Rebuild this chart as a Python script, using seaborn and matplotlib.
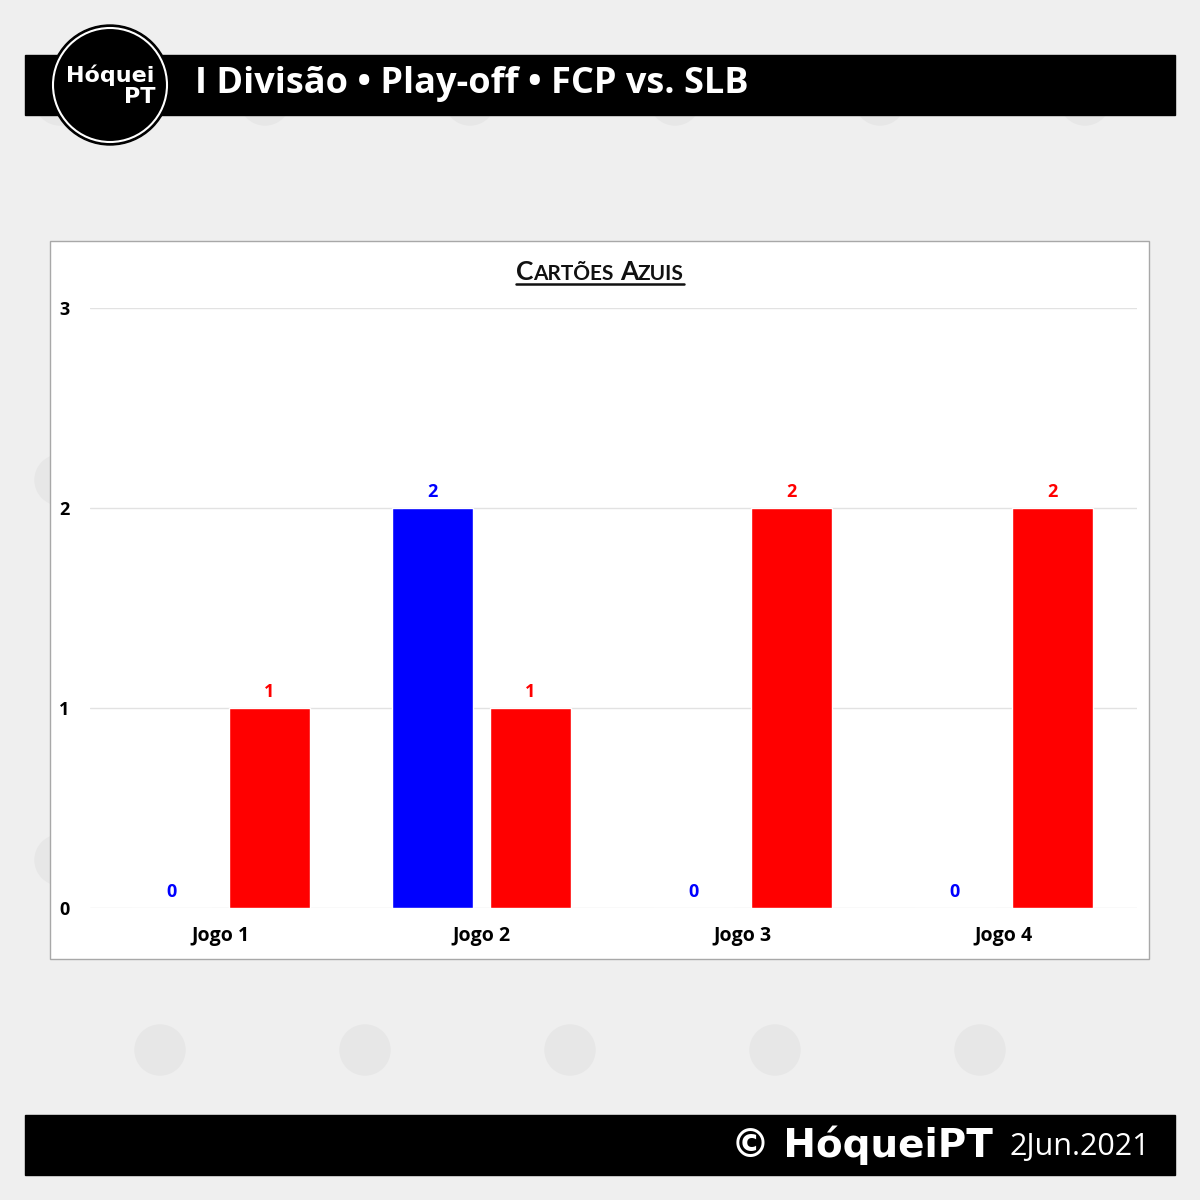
import matplotlib
matplotlib.use("Agg")
import matplotlib.pyplot as plt
import seaborn as sns
import pandas as pd
from matplotlib.patches import Rectangle, Circle
from matplotlib.lines import Line2D

# ---- data ----
games = ["Jogo 1", "Jogo 2", "Jogo 3", "Jogo 4"]
teams = ["FCP", "SLB"]
fcp_cards = [0, 2, 0, 0]
slb_cards = [1, 1, 2, 2]
team_colors = ["#0000ff", "#ff0000"]
y_ticks = [0, 1, 2, 3]
header_title = "I Divisão • Play-off • FCP vs. SLB"
chart_title = [("C", "big"), ("ARTÕES", "small"), (" ", "big"), ("A", "big"), ("ZUIS", "small")]
footer_brand = "© HóqueiPT"
footer_date = "2Jun.2021"

df = pd.DataFrame({
    "Jogo": games * 2,
    "Equipa": [teams[0]] * len(games) + [teams[1]] * len(games),
    "Cartões": fcp_cards + slb_cards,
})

sns.set_theme(style="white")
plt.rcParams['font.family'] = ['Open Sans', 'DejaVu Sans']

W = 1200.0
def fx(px): return px / W
def fy(py): return 1 - py / W

fig = plt.figure(figsize=(12, 12), dpi=100, facecolor="#efefef")

# ---- faint watermark discs ----
for row in range(0, 6):
    for col in range(0, 6):
        x = 60 + col * 205 + (row % 2) * 100
        y = 100 + row * 190
        if 40 < x < 1160:
            fig.patches.append(Circle((fx(x), fy(y)), 25 / W, color="#e7e7e7",
                                      transform=fig.transFigure, zorder=-10))

# ---- header ----
fig.patches.append(Rectangle((fx(25), fy(115)), fx(1150), 60 / W, color="black",
                             transform=fig.transFigure, zorder=2))
fig.patches.append(Circle((fx(110), fy(85)), 60 / W, color="black",
                          transform=fig.transFigure, zorder=3))
fig.patches.append(Circle((fx(110), fy(85)), 57 / W, fill=False, edgecolor="white", lw=1.5,
                          transform=fig.transFigure, zorder=4))
fig.text(fx(110), fy(75), "Hóquei", color="white", fontsize=16, fontweight="bold",
         ha="center", va="center", zorder=5, family=["DejaVu Sans"])
fig.text(fx(140), fy(97), "PT", color="white", fontsize=16, fontweight="bold",
         ha="center", va="center", zorder=5, family=["DejaVu Sans"])
fig.text(fx(195), fy(84), header_title, color="white", fontsize=26, fontweight="bold",
         ha="left", va="center", zorder=5)

# ---- footer ----
fig.patches.append(Rectangle((fx(25), fy(1175)), fx(1150), 60 / W, color="black",
                             transform=fig.transFigure, zorder=2))
fig.text(fx(1150), fy(1147), footer_date, color="white", fontsize=22,
         ha="right", va="center", zorder=5)
fig.text(fx(993), fy(1145), footer_brand, color="white", fontsize=28, fontweight="bold",
         ha="right", va="center", zorder=5, family=["DejaVu Sans"])

# ---- chart panel ----
fig.patches.append(Rectangle((fx(50), fy(959)), fx(1099), 718 / W, facecolor="white",
                             edgecolor="#a8a8a8", lw=1, transform=fig.transFigure, zorder=-5))

ax = fig.add_axes([fx(90), fy(908), fx(1047), 600 / W])
ax.set_facecolor("white")
sns.barplot(data=df, x="Jogo", y="Cartões", hue="Equipa", palette=team_colors,
            width=0.75, gap=0.17, saturation=1, legend=False, ax=ax)

for cont, c in zip(ax.containers, team_colors):
    ax.bar_label(cont, color=c, fontweight="bold", fontsize=13, padding=5)

ax.set_ylim(0, 3)
ax.set_xlim(-0.5, 3.51)
ax.set_yticks(y_ticks)
ax.yaxis.grid(True, color="#e2e2e2", lw=1)
ax.set_axisbelow(True)
for s in ax.spines.values():
    s.set_visible(False)
ax.set_xlabel("")
ax.set_ylabel("")
ax.tick_params(axis="both", length=0, labelsize=13, labelcolor="black")
ax.tick_params(axis="x", labelsize=14, pad=13)
ax.tick_params(axis="y", pad=15)
for t in ax.get_xticklabels() + ax.get_yticklabels():
    t.set_fontweight("bold")

# ---- small caps chart title ----
fig.canvas.draw()
r = fig.canvas.get_renderer()
sizes = {"big": 19, "small": 15}
texts = []
total = 0
for s, k in chart_title:
    t = fig.text(0, fy(280), s, fontsize=sizes[k], fontweight="bold", color="#111111",
                 ha="left", va="baseline", family=["Lato", "DejaVu Sans"])
    w = t.get_window_extent(renderer=r).width
    if s == " ":
        w = 6
    texts.append((t, w))
    total += w
x0 = 600 - total / 2
x = x0
for t, w in texts:
    t.set_x(fx(x))
    x += w
fig.lines.append(Line2D([fx(x0), fx(x0 + total)], [fy(284), fy(284)], color="#111111",
                        lw=1.8, transform=fig.transFigure))

fig.savefig("out.png", dpi=100, facecolor=fig.get_facecolor())
